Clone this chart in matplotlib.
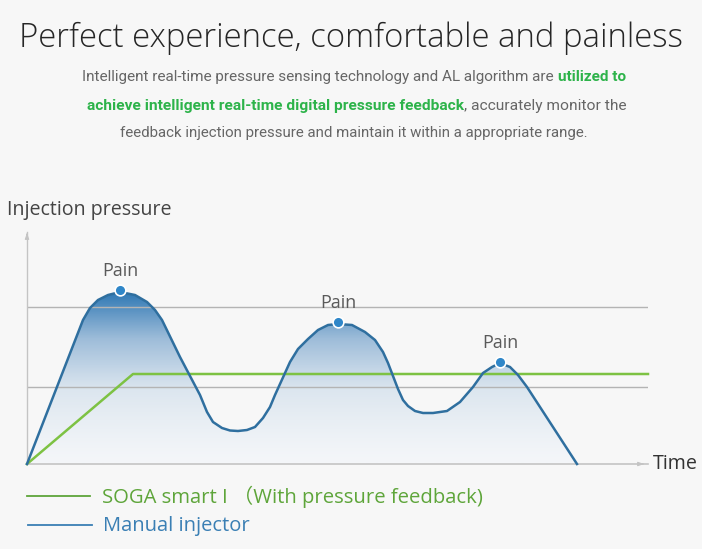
import numpy as np
import matplotlib
matplotlib.use("Agg")
import matplotlib.pyplot as plt
from matplotlib.colors import LinearSegmentedColormap

W, H = 702, 549
BG = "#f7f7f7"
FONT = ["Open Sans", "Noto Sans CJK SC", "DejaVu Sans"]
FONT_DESC = ["Roboto", "DejaVu Sans"]

# manual injector pressure curve (time, pressure)
manual_t = [0, 56, 63, 71, 81, 93, 108, 120, 128, 135, 153, 173, 180, 186, 195, 203,
            211, 220, 228, 236, 243, 248, 263, 271, 281, 291, 301, 311, 325, 338,
            348, 356, 361, 366, 371, 376, 381, 388, 396, 406, 420, 433, 446, 456, 465,
            473, 483, 491, 500, 550]
manual_p = [0, 144, 156, 164, 169, 172, 169, 162, 154, 144, 107, 69, 52, 42, 36, 33.5,
            33, 34, 37, 46, 57, 69, 102, 115, 125, 134, 139, 140, 139, 132,
            124, 112, 101, 88, 75, 64, 58, 53, 51, 51, 53, 62, 77, 91, 97,
            101, 97, 89, 77, 0]

# SOGA smart I with pressure feedback
soga_t = [0, 106, 621]
soga_p = [0, 90, 90]

# pain peaks
pain_t = [93, 311, 473]
pain_p = [174, 142, 102]

grid_levels = [77, 157]
t_max, p_max = 621, 232

title = "Perfect experience, comfortable and painless"
desc_lines = [
    [("Intelligent real-time pressure sensing technology and AL algorithm are ", "#666666", "normal"),
     ("utilized to", "#2db34a", "bold")],
    [("achieve intelligent real-time digital pressure feedback", "#2db34a", "bold"),
     (", accurately monitor the", "#666666", "normal")],
    [("feedback injection pressure and maintain it within a appropriate range.", "#666666", "normal")],
]
desc_widths = [547, 538, 472]
legend_soga = "SOGA smart I （With pressure feedback)"
legend_manual = "Manual injector"

fig = plt.figure(figsize=(W / 100, H / 100), dpi=100, facecolor=BG)
renderer = fig.canvas.get_renderer()


def fx(px):
    return px / W


def fy(py):
    return 1 - py / H


def fit(t, width):
    # scale font so the text spans the wanted pixel width
    w = t.get_window_extent(renderer).width
    t.set_fontsize(t.get_fontsize() * width / w)


def rich_line(parts, cx, cy, width):
    items = [fig.text(0, fy(cy), s, color=c, fontsize=10, fontweight=wt,
                      family=FONT_DESC, va="center", ha="left") for s, c, wt in parts]
    total = sum(t.get_window_extent(renderer).width for t in items)
    for t in items:
        t.set_fontsize(10 * width / total)
    x = cx - width / 2
    for t in items:
        t.set_x(fx(x))
        x += t.get_window_extent(renderer).width


ax = fig.add_axes([fx(27), fy(464), fx(648) - fx(27), (464 - 232) / H])
ax.set_facecolor(BG)
ax.set_xlim(0, t_max)
ax.set_ylim(0, p_max)
ax.axis("off")

# gradient fill under the manual curve
poly = ax.fill_between(manual_t, manual_p, 0, color="none", lw=0)
cmap = LinearSegmentedColormap.from_list("g", ["#f4f6f9", "#dce6ef", "#9dbcd9", "#2f78b4"])
grad = np.linspace(0, 1, 256).reshape(-1, 1) ** 1.3
img = ax.imshow(grad, cmap=cmap, aspect="auto", origin="lower",
                extent=(0, t_max, 0, max(manual_p)), zorder=1)
img.set_clip_path(poly.get_paths()[0], transform=ax.transData)

for g in grid_levels:
    ax.plot([0, t_max], [g, g], color="#b4b4b4", lw=1, zorder=2)

# axes with small arrows
ax.plot([0, 0], [0, p_max], color="#c4c4c4", lw=1, clip_on=False, zorder=2)
ax.plot([0, t_max], [0, 0], color="#c4c4c4", lw=1.2, clip_on=False, zorder=2)
ax.annotate("", xy=(0, p_max + 2), xytext=(0, p_max - 6),
            arrowprops=dict(arrowstyle="-|>,head_width=0.12,head_length=0.35",
                            color="#c4c4c4", lw=0.8), annotation_clip=False)
ax.annotate("", xy=(t_max - 1, 0), xytext=(t_max - 9, 0),
            arrowprops=dict(arrowstyle="-|>,head_width=0.12,head_length=0.35",
                            color="#c4c4c4", lw=0.8), annotation_clip=False)

ax.plot(soga_t, soga_p, color="#7dc243", lw=1.8, zorder=3, clip_on=False)
ax.plot(manual_t, manual_p, color="#2f6f9f", lw=1.8, zorder=4,
        solid_joinstyle="round", clip_on=False)
ax.scatter(pain_t, pain_p, s=60, color="#2f86c8", edgecolors="white",
           linewidths=1.2, zorder=5, clip_on=False)
for t, p in zip(pain_t, pain_p):
    ax.annotate("Pain", (t, p), xytext=(0, 10), textcoords="offset points",
                ha="center", va="baseline", fontsize=13, color="#5a5a5a", family=FONT)

# texts
tt = fig.text(fx(351), fy(38), title, ha="center", va="center", fontsize=28,
              color="#262626", family=FONT, fontweight="light")
fit(tt, 665)
for line, cy, w in zip(desc_lines, [77, 106, 133], desc_widths):
    rich_line(line, 356, cy, w)

t = fig.text(fx(7), fy(210), "Injection pressure", ha="left", va="center",
             fontsize=15, color="#444444", family=FONT)
fit(t, 165)
t = fig.text(fx(653), fy(464), "Time", ha="left", va="center",
             fontsize=15, color="#333333", family=FONT)
fit(t, 45)

fig.add_artist(plt.Line2D([fx(27), fx(90)], [fy(496), fy(496)], color="#5ea53a", lw=1.3))
fig.add_artist(plt.Line2D([fx(28), fx(92)], [fy(525), fy(525)], color="#3a7fb4", lw=1.3))
t = fig.text(fx(102), fy(497), legend_soga, ha="left", va="center",
             fontsize=15, color="#5ea53a", family=FONT)
fit(t, 380)
t = fig.text(fx(103), fy(526), legend_manual, ha="left", va="center",
             fontsize=15, color="#3a7fb4", family=FONT)
fit(t, 146)

fig.savefig("out.png", dpi=100, facecolor=BG)
